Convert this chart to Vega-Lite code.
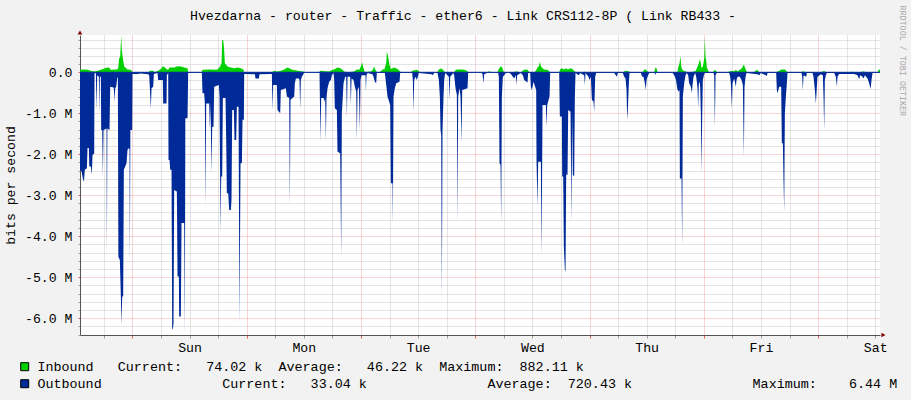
{
"$schema": "https://vega.github.io/schema/vega-lite/v6.json",
"width": 800, "height": 300,
"autosize": "none",
"padding": {"left": 80, "top": 35, "right": 31, "bottom": 65},
"background": "#F2F2F2",
"config": {
  "view": {"fill": "#FFFFFF", "stroke": null},
  "axis": {"labelFont": "Liberation Mono", "titleFont": "Liberation Mono", "labelFontSize": 13.2, "titleFontSize": 13.2, "titleFontWeight": "normal", "labelColor": "#000000", "titleColor": "#000000"}
},
"datasets": {
"inb": [
{"h":1.0,"v":0.06},{"h":1.88,"v":0.07},{"h":2.58,"v":0.06},{"h":3.28,"v":0.04},{"h":3.98,"v":0.02},{"h":4.68,"v":0.04},{"h":5.38,"v":0.06},{"h":6.08,"v":0.09},{"h":6.78,"v":0.12},{"h":7.13,"v":0.11},{"h":7.48,"v":0.06},{"h":8.74,"v":0.07},{"h":9.02,"v":0.10},{"h":9.23,"v":0.34},{"h":9.44,"v":0.38},{"h":9.65,"v":0.89},{"h":9.79,"v":0.54},{"h":10.0,"v":0.34},{"h":10.28,"v":0.14},{"h":10.98,"v":0.07},{"h":11.68,"v":0.06},{"h":11.96,"v":0.02},{"h":12.1,"v":0},
{"h":15.46,"v":0},{"h":15.6,"v":0.04},{"h":16.44,"v":0.04},{"h":16.58,"v":0},{"h":17.28,"v":0.03},{"h":17.84,"v":0.07},{"h":18.12,"v":0.10},{"h":18.4,"v":0.15},{"h":18.82,"v":0.12},{"h":19.24,"v":0.07},{"h":19.52,"v":0.06},{"h":19.8,"v":0.12},{"h":20.78,"v":0.12},{"h":21.48,"v":0.15},{"h":22.18,"v":0.14},{"h":22.88,"v":0.12},{"h":23.58,"v":0.10},{"h":23.72,"v":0},
{"h":26.52,"v":0},{"h":26.73,"v":0.06},{"h":28.48,"v":0.07},{"h":29.18,"v":0.06},{"h":29.88,"v":0.07},{"h":30.44,"v":0.15},{"h":30.72,"v":0.22},{"h":30.86,"v":0.79},{"h":31.07,"v":0.79},{"h":31.28,"v":0.54},{"h":31.42,"v":0.22},{"h":31.98,"v":0.14},{"h":32.68,"v":0.12},{"h":33.38,"v":0.10},{"h":34.08,"v":0.12},{"h":34.78,"v":0.10},{"h":35.34,"v":0.06},{"h":35.48,"v":0},
{"h":41.43,"v":0},{"h":41.64,"v":0.04},{"h":42.48,"v":0.02},{"h":43.18,"v":0.04},{"h":43.88,"v":0.07},{"h":44.58,"v":0.12},{"h":44.93,"v":0.10},{"h":45.63,"v":0.06},{"h":47.03,"v":0.03},{"h":47.94,"v":0.02},{"h":48.08,"v":0},
{"h":51.23,"v":0},{"h":51.44,"v":0.04},{"h":53.33,"v":0.02},{"h":54.03,"v":0.06},{"h":54.38,"v":0.07},{"h":55.08,"v":0.12},{"h":55.64,"v":0.10},{"h":56.13,"v":0.06},{"h":56.48,"v":0.02},{"h":57.18,"v":0},{"h":58.58,"v":0.02},{"h":59.14,"v":0.07},{"h":59.63,"v":0.06},{"h":59.98,"v":0.14},{"h":60.26,"v":0.24},{"h":60.54,"v":0.10},{"h":60.82,"v":0.01},{"h":62.08,"v":0.02},{"h":62.5,"v":0.06},{"h":62.78,"v":0.14},{"h":62.99,"v":0.07},{"h":63.34,"v":0.01},{"h":63.83,"v":0},{"h":64.32,"v":0.04},{"h":64.6,"v":0.08},{"h":64.88,"v":0.06},{"h":65.3,"v":0.22},{"h":65.44,"v":0.50},{"h":65.72,"v":0.38},{"h":66.0,"v":0.18},{"h":66.28,"v":0.08},{"h":66.98,"v":0.12},{"h":67.68,"v":0.08},{"h":68.24,"v":0.02},{"h":68.38,"v":0},
{"h":70.48,"v":0},{"h":70.83,"v":0.04},{"h":71.74,"v":0.06},{"h":72.23,"v":0.02},{"h":72.44,"v":0},{"h":76.08,"v":0},{"h":76.29,"v":0.06},{"h":76.78,"v":0.09},{"h":77.2,"v":0.07},{"h":77.48,"v":0.02},{"h":77.83,"v":0},{"h":79.58,"v":0},{"h":79.93,"v":0.06},{"h":80.28,"v":0.07},{"h":80.98,"v":0.07},{"h":81.68,"v":0.06},{"h":82.24,"v":0.04},{"h":82.52,"v":0},
{"h":86.58,"v":0},{"h":86.79,"v":0.02},{"h":87.14,"v":0.02},{"h":87.28,"v":0},{"h":88.68,"v":0},{"h":88.89,"v":0.07},{"h":89.17,"v":0.12},{"h":89.38,"v":0.15},{"h":89.66,"v":0.12},{"h":89.87,"v":0.04},{"h":90.08,"v":0},{"h":92.18,"v":0},{"h":92.39,"v":0.02},{"h":92.88,"v":0.02},{"h":93.09,"v":0},{"h":93.79,"v":0},{"h":93.93,"v":0.04},{"h":94.28,"v":0.06},{"h":94.63,"v":0.07},{"h":94.98,"v":0.06},{"h":95.33,"v":0},{"h":96.38,"v":0},{"h":96.73,"v":0.04},{"h":97.08,"v":0.12},{"h":97.36,"v":0.15},{"h":97.57,"v":0.26},{"h":97.78,"v":0.15},{"h":98.13,"v":0.10},{"h":98.48,"v":0.07},{"h":99.18,"v":0.06},{"h":99.53,"v":0.02},{"h":99.88,"v":0},
{"h":101.63,"v":0},{"h":101.84,"v":0.07},{"h":102.12,"v":0.10},{"h":102.68,"v":0.07},{"h":103.1,"v":0.10},{"h":103.38,"v":0.07},{"h":104.08,"v":0.10},{"h":104.5,"v":0.07},{"h":104.92,"v":0.02},{"h":105.2,"v":0},{"h":106.74,"v":0},{"h":106.88,"v":0.02},{"h":107.23,"v":0},
{"h":115.08,"v":0},{"h":115.28,"v":0.02},{"h":115.63,"v":0.04},{"h":116.33,"v":0.02},{"h":116.68,"v":0},{"h":119.13,"v":0},{"h":119.48,"v":0.06},{"h":119.83,"v":0.07},{"h":120.18,"v":0.02},{"h":120.53,"v":0},{"h":121.58,"v":0},{"h":121.86,"v":0.12},{"h":122.07,"v":0.10},{"h":122.28,"v":0},
{"h":126.27,"v":0},{"h":126.48,"v":0.02},{"h":126.69,"v":0.14},{"h":126.9,"v":0.22},{"h":127.11,"v":0.40},{"h":127.25,"v":0.14},{"h":127.46,"v":0.07},{"h":127.74,"v":0.04},{"h":128.23,"v":0.02},{"h":128.58,"v":0},{"h":129.28,"v":0.01},{"h":129.98,"v":0.02},{"h":130.33,"v":0.04},{"h":130.68,"v":0.14},{"h":130.96,"v":0.22},{"h":131.17,"v":0.32},{"h":131.38,"v":0.22},{"h":131.52,"v":0.10},{"h":131.8,"v":0.14},{"h":132.08,"v":0.32},{"h":132.22,"v":0.85},{"h":132.36,"v":0.38},{"h":132.5,"v":0.30},{"h":132.64,"v":0.12},{"h":132.92,"v":0.04},{"h":133.2,"v":0},
{"h":133.83,"v":0},{"h":134.18,"v":0.04},{"h":134.39,"v":0.06},{"h":134.6,"v":0.02},{"h":134.88,"v":0},{"h":136.98,"v":0},{"h":137.33,"v":0.02},{"h":138.03,"v":0.04},{"h":138.38,"v":0.02},{"h":138.73,"v":0.06},{"h":139.08,"v":0.02},{"h":139.5,"v":0.06},{"h":139.78,"v":0.07},{"h":140.2,"v":0.14},{"h":140.41,"v":0.19},{"h":140.69,"v":0.10},{"h":140.97,"v":0.02},{"h":141.32,"v":0},{"h":142.23,"v":0},{"h":142.72,"v":0.02},{"h":143.14,"v":0.06},{"h":143.42,"v":0.03},{"h":143.7,"v":0},
{"h":147.13,"v":0},{"h":147.83,"v":0.04},{"h":148.32,"v":0.07},{"h":149.02,"v":0.07},{"h":149.3,"v":0.04},{"h":149.58,"v":0},{"h":152.38,"v":0},{"h":152.73,"v":0.02},{"h":153.08,"v":0.02},{"h":153.43,"v":0},{"h":156.58,"v":0},{"h":156.93,"v":0.02},{"h":157.28,"v":0.03},{"h":157.63,"v":0.01},{"h":157.98,"v":0},{"h":162.88,"v":0},{"h":163.02,"v":0.02},{"h":163.3,"v":0},{"h":164.98,"v":0},{"h":165.33,"v":0.02},{"h":165.68,"v":0.02},{"h":166.03,"v":0},{"h":168.48,"v":0},{"h":168.76,"v":0.07},{"h":169.0,"v":0.06}
],
"outb": [
{"h":1.0,"v":-2.38},{"h":1.32,"v":-2.42},{"h":1.6,"v":-2.59},{"h":1.81,"v":-2.67},{"h":2.02,"v":-2.38},{"h":2.44,"v":-2.34},{"h":2.58,"v":-1.85},{"h":2.86,"v":-1.85},{"h":2.95,"v":-2.30},{"h":3.28,"v":-2.30},{"h":3.49,"v":-2.50},{"h":3.63,"v":-2.02},{"h":3.98,"v":-1.98},{"h":4.05,"v":-0.03},{"h":4.33,"v":-0.02},{"h":4.47,"v":-0.92},{"h":4.61,"v":-0.07},{"h":4.96,"v":-0.11},{"h":5.07,"v":-1.00},{"h":5.17,"v":-0.11},{"h":5.38,"v":-0.11},{"h":5.45,"v":-1.41},{"h":5.66,"v":-1.41},{"h":5.8,"v":-2.54},{"h":5.94,"v":-1.41},{"h":6.57,"v":-1.37},{"h":6.64,"v":-4.46},{"h":6.75,"v":-1.37},{"h":7.2,"v":-1.41},{"h":7.34,"v":-0.35},{"h":8.04,"v":-0.37},{"h":8.11,"v":-0.39},{"h":8.25,"v":-0.72},{"h":8.39,"v":-0.39},{"h":8.6,"v":-0.35},{"h":8.81,"v":-0.15},{"h":8.95,"v":-0.11},
{"h":9.06,"v":-4.50},{"h":9.37,"v":-4.58},{"h":9.58,"v":-5.47},{"h":9.72,"v":-6.16},{"h":9.86,"v":-5.47},{"h":10.07,"v":-5.47},{"h":10.21,"v":-2.38},{"h":10.49,"v":-2.30},{"h":10.77,"v":-2.22},{"h":10.98,"v":-1.89},{"h":11.26,"v":-1.85},{"h":11.4,"v":-1.89},{"h":11.47,"v":-4.66},{"h":11.58,"v":-1.41},{"h":11.96,"v":-1.41},{"h":12.03,"v":-0.04},{"h":13.08,"v":-0.04},{"h":13.78,"v":-0.03},{"h":15.32,"v":-0.05},{"h":15.53,"v":-0.07},{"h":15.67,"v":-0.39},{"h":15.88,"v":-0.89},{"h":16.02,"v":-0.39},{"h":16.37,"v":-0.35},{"h":16.51,"v":-0.04},{"h":17.28,"v":-0.02},{"h":17.42,"v":-0.19},{"h":18.4,"v":-0.19},{"h":18.47,"v":-0.76},{"h":19.17,"v":-0.76},{"h":19.24,"v":-0.07},{"h":19.52,"v":-0.02},
{"h":19.59,"v":-2.14},{"h":19.8,"v":-2.14},{"h":19.94,"v":-2.38},{"h":20.22,"v":-2.38},{"h":20.36,"v":-6.24},{"h":20.5,"v":-6.28},{"h":20.64,"v":-6.12},{"h":20.78,"v":-2.87},{"h":21.34,"v":-2.91},{"h":21.48,"v":-4.98},{"h":21.76,"v":-4.98},{"h":21.83,"v":-5.96},{"h":22.18,"v":-5.96},{"h":22.32,"v":-3.68},{"h":22.88,"v":-3.68},{"h":23.02,"v":-6.41},{"h":23.12,"v":-1.12},{"h":23.58,"v":-1.12},{"h":23.72,"v":-0.02},{"h":26.52,"v":-0.01},
{"h":26.59,"v":-0.02},{"h":26.73,"v":-0.51},{"h":27.08,"v":-0.51},{"h":27.22,"v":-0.76},{"h":27.36,"v":-3.24},{"h":27.5,"v":-0.76},{"h":28.13,"v":-0.76},{"h":28.27,"v":-1.41},{"h":28.41,"v":-0.76},{"h":28.62,"v":-2.46},{"h":28.76,"v":-1.33},{"h":29.04,"v":-1.33},{"h":29.18,"v":-0.35},{"h":30.16,"v":-0.31},{"h":30.3,"v":-0.59},{"h":30.51,"v":-3.93},{"h":30.65,"v":-2.54},{"h":30.86,"v":-2.54},{"h":31.0,"v":-0.63},{"h":31.56,"v":-0.63},{"h":31.7,"v":-1.65},{"h":31.84,"v":-2.95},{"h":32.12,"v":-2.95},{"h":32.33,"v":-3.36},{"h":32.68,"v":-3.36},{"h":32.82,"v":-3.11},{"h":32.96,"v":-0.92},{"h":33.31,"v":-0.92},{"h":33.45,"v":-1.65},{"h":33.8,"v":-1.65},{"h":33.94,"v":-0.84},{"h":34.29,"v":-0.84},{"h":34.5,"v":-6.12},{"h":34.71,"v":-2.22},{"h":34.99,"v":-2.22},{"h":35.13,"v":-1.16},{"h":35.41,"v":-1.16},{"h":35.48,"v":-0.04},
{"h":37.72,"v":-0.05},{"h":37.86,"v":-0.15},{"h":38.56,"v":-0.15},{"h":38.7,"v":-0.05},{"h":41.29,"v":-0.04},{"h":41.43,"v":-0.92},{"h":41.57,"v":-0.31},{"h":42.34,"v":-0.31},{"h":42.48,"v":-0.92},{"h":43.04,"v":-1.00},{"h":43.18,"v":-0.43},{"h":44.23,"v":-0.39},{"h":44.44,"v":-0.59},{"h":44.93,"v":-0.63},{"h":45.07,"v":-3.24},{"h":45.21,"v":-0.67},{"h":45.98,"v":-0.59},{"h":46.12,"v":-0.27},{"h":46.33,"v":-0.15},{"h":46.96,"v":-0.15},{"h":47.1,"v":-0.19},{"h":47.24,"v":-0.89},{"h":47.38,"v":-0.19},{"h":47.59,"v":-0.11},{"h":47.94,"v":-0.04},{"h":48.08,"v":-0.01},{"h":51.23,"v":-0.01},
{"h":51.3,"v":-0.02},{"h":51.37,"v":-0.59},{"h":51.51,"v":-1.69},{"h":51.65,"v":-0.63},{"h":52.14,"v":-0.63},{"h":52.35,"v":-0.72},{"h":52.49,"v":-0.63},{"h":52.63,"v":-1.65},{"h":52.77,"v":-0.63},{"h":52.98,"v":-0.39},{"h":53.33,"v":-0.23},{"h":53.68,"v":-0.19},{"h":53.89,"v":-0.07},{"h":54.24,"v":-0.02},{"h":54.38,"v":-0.19},{"h":54.52,"v":-0.88},{"h":54.94,"v":-0.92},{"h":55.08,"v":-1.93},{"h":55.64,"v":-1.98},{"h":55.85,"v":-4.50},{"h":55.99,"v":-1.00},{"h":56.34,"v":-0.27},{"h":56.69,"v":-0.11},{"h":56.9,"v":-0.11},{"h":57.04,"v":-1.08},{"h":57.18,"v":-0.11},{"h":57.74,"v":-0.11},{"h":57.88,"v":-0.80},{"h":58.02,"v":-0.15},{"h":58.44,"v":-0.19},{"h":58.72,"v":-0.35},{"h":59.0,"v":-0.47},{"h":59.14,"v":-1.65},{"h":59.28,"v":-0.43},{"h":59.56,"v":-0.35},{"h":59.77,"v":-1.41},{"h":59.91,"v":-0.19},{"h":60.12,"v":-0.07},{"h":60.96,"v":-0.07},{"h":61.03,"v":-0.47},{"h":61.17,"v":-0.07},{"h":61.38,"v":-0.02},{"h":62.43,"v":-0.05},{"h":62.64,"v":-0.11},{"h":62.92,"v":-0.23},{"h":63.2,"v":-0.27},{"h":63.34,"v":-0.02},{"h":65.02,"v":-0.02},
{"h":65.23,"v":-0.23},{"h":65.58,"v":-0.59},{"h":66.14,"v":-0.80},{"h":66.28,"v":-2.71},{"h":66.63,"v":-2.71},{"h":66.7,"v":-3.72},{"h":66.84,"v":-0.59},{"h":67.12,"v":-0.39},{"h":67.4,"v":-0.27},{"h":68.1,"v":-0.23},{"h":68.24,"v":-0.02},{"h":70.76,"v":-0.02},{"h":70.9,"v":-0.19},{"h":71.04,"v":-0.96},{"h":71.18,"v":-0.19},{"h":71.46,"v":-0.11},{"h":71.74,"v":-0.19},{"h":71.95,"v":-0.11},{"h":72.16,"v":-0.02},{"h":74.82,"v":-0.05},{"h":75.1,"v":-0.07},{"h":75.38,"v":-0.01},{"h":76.08,"v":-0.02},{"h":76.36,"v":-0.19},{"h":76.57,"v":-0.59},{"h":76.71,"v":-1.41},{"h":76.85,"v":-1.53},{"h":76.99,"v":-5.55},{"h":77.13,"v":-1.41},{"h":77.34,"v":-0.59},{"h":77.48,"v":-0.19},{"h":77.69,"v":-0.02},{"h":78.18,"v":-0.07},{"h":78.46,"v":-0.11},{"h":78.6,"v":-0.67},{"h":78.74,"v":-0.11},{"h":79.02,"v":-0.07},{"h":79.37,"v":-0.02},{"h":79.58,"v":-0.07},{"h":79.86,"v":-0.39},{"h":80.14,"v":-0.55},{"h":80.28,"v":-3.68},{"h":80.42,"v":-0.59},{"h":80.7,"v":-0.39},{"h":80.91,"v":-0.59},{"h":81.12,"v":-1.73},{"h":81.26,"v":-0.43},{"h":82.38,"v":-0.39},{"h":82.52,"v":-0.02},
{"h":85.32,"v":-0.01},{"h":85.53,"v":-0.05},{"h":85.74,"v":-0.27},{"h":85.88,"v":-0.05},{"h":86.58,"v":-0.01},{"h":88.82,"v":-0.02},{"h":88.96,"v":-0.11},{"h":89.1,"v":-2.22},{"h":89.31,"v":-2.26},{"h":89.45,"v":-3.68},{"h":89.59,"v":-0.59},{"h":89.8,"v":-0.11},{"h":90.08,"v":-0.07},{"h":90.43,"v":-0.02},{"h":91.13,"v":-0.01},{"h":91.48,"v":-0.04},{"h":92.18,"v":-0.15},{"h":92.53,"v":-0.07},{"h":92.67,"v":-0.31},{"h":92.81,"v":-0.07},{"h":93.58,"v":-0.02},{"h":94.0,"v":-0.07},{"h":94.28,"v":-0.19},{"h":94.98,"v":-0.25},{"h":95.12,"v":-0.02},{"h":95.54,"v":-0.02},{"h":95.68,"v":-0.35},{"h":95.89,"v":-0.43},{"h":96.24,"v":-0.23},{"h":96.8,"v":-0.43},{"h":96.87,"v":-2.18},{"h":97.08,"v":-3.28},{"h":97.22,"v":-2.18},{"h":97.78,"v":-2.18},{"h":97.92,"v":-4.46},{"h":98.06,"v":-2.22},{"h":98.13,"v":-0.80},{"h":98.83,"v":-0.80},{"h":98.97,"v":-1.33},{"h":99.11,"v":-0.80},{"h":99.6,"v":-0.59},{"h":99.74,"v":-0.02},
{"h":101.63,"v":-0.01},{"h":101.77,"v":-1.08},{"h":102.19,"v":-1.08},{"h":102.26,"v":-2.54},{"h":102.47,"v":-2.54},{"h":102.61,"v":-4.25},{"h":102.82,"v":-4.82},{"h":102.96,"v":-4.86},{"h":103.1,"v":-2.50},{"h":103.38,"v":-2.50},{"h":103.52,"v":-0.92},{"h":104.01,"v":-0.96},{"h":104.22,"v":-3.68},{"h":104.36,"v":-1.00},{"h":104.5,"v":-2.50},{"h":104.78,"v":-2.54},{"h":104.92,"v":-0.59},{"h":105.06,"v":-0.02},{"h":105.76,"v":-0.07},{"h":106.04,"v":-0.02},{"h":106.88,"v":-0.07},{"h":107.02,"v":-0.31},{"h":107.16,"v":-0.02},{"h":107.79,"v":-0.11},{"h":108.0,"v":-0.19},{"h":108.28,"v":-0.11},{"h":108.49,"v":-0.67},{"h":108.84,"v":-0.72},{"h":108.98,"v":-0.96},{"h":109.19,"v":-0.11},{"h":109.4,"v":-0.02},
{"h":113.18,"v":-0.02},{"h":113.53,"v":-0.07},{"h":113.74,"v":-0.11},{"h":113.95,"v":-0.02},{"h":115.0,"v":-0.02},{"h":115.28,"v":-0.11},{"h":115.56,"v":-0.15},{"h":115.77,"v":-0.43},{"h":115.91,"v":-1.16},{"h":116.05,"v":-0.92},{"h":116.26,"v":-0.27},{"h":116.4,"v":-0.02},{"h":118.78,"v":-0.02},{"h":119.06,"v":-0.11},{"h":119.34,"v":-0.11},{"h":119.62,"v":-0.27},{"h":119.83,"v":-0.43},{"h":119.97,"v":-0.19},{"h":120.18,"v":-0.11},{"h":120.53,"v":-0.02},{"h":121.65,"v":-0.01},{"h":121.79,"v":-0.07},{"h":121.93,"v":-0.02},{"h":125.43,"v":-0.01},{"h":125.78,"v":-0.07},{"h":126.13,"v":-0.17},
{"h":126.48,"v":-0.43},{"h":126.76,"v":-0.47},{"h":126.9,"v":-0.43},{"h":126.97,"v":-2.59},{"h":127.32,"v":-2.59},{"h":127.46,"v":-4.25},{"h":127.6,"v":-0.59},{"h":127.88,"v":-0.27},{"h":128.16,"v":-0.07},{"h":128.44,"v":-0.02},{"h":128.72,"v":-0.07},{"h":128.93,"v":-0.27},{"h":129.14,"v":-0.31},{"h":129.35,"v":-0.39},{"h":129.49,"v":-0.51},{"h":129.63,"v":-0.31},{"h":129.84,"v":-0.11},{"h":130.19,"v":-0.02},{"h":130.4,"v":-0.11},{"h":130.54,"v":-0.23},{"h":130.68,"v":-0.39},{"h":130.82,"v":-0.88},{"h":130.96,"v":-0.27},{"h":131.1,"v":-0.23},{"h":131.24,"v":-0.35},{"h":131.38,"v":-1.00},{"h":131.52,"v":-2.46},{"h":131.66,"v":-1.08},{"h":131.8,"v":-0.19},{"h":132.01,"v":-0.07},{"h":132.22,"v":-0.02},
{"h":134.04,"v":-0.02},{"h":134.18,"v":-0.07},{"h":134.32,"v":-1.33},{"h":134.46,"v":-0.07},{"h":134.74,"v":-0.01},{"h":137.33,"v":-0.02},{"h":137.54,"v":-0.11},{"h":137.68,"v":-0.27},{"h":137.89,"v":-0.88},{"h":138.03,"v":-0.27},{"h":138.38,"v":-0.15},{"h":138.73,"v":-0.35},{"h":138.87,"v":-0.19},{"h":139.08,"v":-0.11},{"h":139.57,"v":-0.11},{"h":139.92,"v":-0.19},{"h":140.2,"v":-0.31},{"h":140.41,"v":-2.06},{"h":140.55,"v":-0.35},{"h":140.76,"v":-0.11},{"h":140.97,"v":-0.02},{"h":143.28,"v":-0.05},{"h":143.63,"v":-0.07},{"h":143.98,"v":-0.02},{"h":145.03,"v":-0.07},{"h":145.24,"v":-0.09},{"h":145.38,"v":-0.02},
{"h":147.2,"v":-0.02},{"h":147.34,"v":-0.43},{"h":147.48,"v":-0.51},{"h":147.83,"v":-0.35},{"h":148.25,"v":-0.35},{"h":148.39,"v":-1.73},{"h":148.6,"v":-1.73},{"h":148.74,"v":-2.63},{"h":148.88,"v":-3.40},{"h":149.02,"v":-1.00},{"h":149.23,"v":-0.59},{"h":149.44,"v":-0.27},{"h":149.58,"v":-0.02},{"h":152.52,"v":-0.02},{"h":152.66,"v":-0.11},{"h":152.8,"v":-0.43},{"h":152.94,"v":-0.07},{"h":153.5,"v":-0.11},{"h":153.64,"v":-0.02},{"h":154.83,"v":-0.02},{"h":155.04,"v":-0.11},{"h":155.32,"v":-0.43},{"h":155.53,"v":-0.76},{"h":155.74,"v":-0.35},{"h":155.88,"v":-0.11},{"h":156.58,"v":-0.05},{"h":157.0,"v":-0.07},{"h":157.14,"v":-0.59},{"h":157.28,"v":-1.41},{"h":157.42,"v":-0.19},{"h":157.63,"v":-0.07},{"h":157.84,"v":-0.02},
{"h":159.38,"v":-0.02},{"h":159.73,"v":-0.11},{"h":159.94,"v":-0.35},{"h":160.08,"v":-0.11},{"h":160.43,"v":-0.04},{"h":163.58,"v":-0.04},{"h":164.28,"v":-0.07},{"h":164.63,"v":-0.17},{"h":164.84,"v":-0.07},{"h":165.33,"v":-0.11},{"h":165.54,"v":-0.15},{"h":165.82,"v":-0.07},{"h":166.38,"v":-0.15},{"h":166.73,"v":-0.27},{"h":167.01,"v":-0.41},{"h":167.22,"v":-0.19},{"h":167.43,"v":-0.02},{"h":169.0,"v":-0.01}
]
},
"layer": [
{
  "data": {"name": "inb"},
  "mark": {"type": "area", "orient": "vertical", "interpolate": "linear", "opacity": 1},
  "encoding": {
    "x": {"field": "h", "type": "quantitative",
      "scale": {"domain": [1, 169], "nice": false, "zero": false},
      "axis": {"orient": "bottom", "title": null,
        "values": [6,12,18,24,30,36,42,48,54,60,66,72,78,84,90,96,102,108,114,120,126,132,138,144,150,156,162,168],
        "labelExpr": "datum.value % 24 === 0 ? ['Sat','Sun','Mon','Tue','Wed','Thu','Fri','Sat'][datum.value / 24] : ''",
        "labelOverlap": false, "labelPadding": 3, "labelFlush": false,
        "grid": true, "gridDash": [1, 1],
        "gridColor": {"condition": {"test": "datum.value % 24 === 12", "value": "#F0A8A8"}, "value": "#C8C8C8"},
        "tickSize": 3,
        "tickColor": {"condition": {"test": "datum.value % 24 === 12", "value": "#E06060"}, "value": "#A0A0A0"},
        "domainColor": "#555555"}},
    "y": {"field": "v", "type": "quantitative", "stack": null,
      "scale": {"domain": [-6.41, 0.91], "nice": false, "zero": false},
      "axis": {"orient": "left", "title": "bits per second",
        "titleX": -70, "titleY": 150, "titleAngle": -90, "titleAlign": "center", "titleBaseline": "middle",
        "values": [-6.4,-6.2,-6,-5.8,-5.6,-5.4,-5.2,-5,-4.8,-4.6,-4.4,-4.2,-4,-3.8,-3.6,-3.4,-3.2,-3,-2.8,-2.6,-2.4,-2.2,-2,-1.8,-1.6,-1.4,-1.2,-1,-0.8,-0.6,-0.4,-0.2,0,0.2,0.4,0.6,0.8],
        "labelExpr": "abs(datum.value - round(datum.value)) < 0.01 ? (abs(datum.value) < 0.01 ? '0.0\u00a0\u00a0' : '-' + format(abs(datum.value), '.1f') + ' M') : ''",
        "labelOverlap": false, "labelPadding": 6, "labelFlush": false,
        "grid": true, "gridDash": [1, 1],
        "gridColor": {"condition": {"test": "abs(datum.value - round(datum.value)) < 0.01", "value": "#F0A8A8"}, "value": "#C8C8C8"},
        "tickSize": 2,
        "tickColor": {"condition": {"test": "abs(datum.value - round(datum.value)) < 0.01", "value": "#E06060"}, "value": "#A0A0A0"},
        "domainColor": "#555555"}},
    "y2": {"datum": 0},
    "color": {"datum": "Inbound",
      "scale": {"domain": ["Inbound", "Outbound"], "range": ["#00CF00", "#002A97"]},
      "legend": {"orient": "none", "legendX": -62, "legendY": 325, "direction": "vertical", "title": null,
        "symbolType": "square", "symbolSize": 64, "symbolStrokeColor": "#000000", "symbolStrokeWidth": 1,
        "labelFont": "Liberation Mono", "labelFontSize": 13.4, "labelColor": "#000000", "labelLimit": 2000,
        "labelOffset": 6, "rowPadding": 2, "padding": 0,
        "labelExpr": "datum.label === 'Inbound' ? 'Inbound\u00a0\u00a0\u00a0Current:\u00a0\u00a0\u00a074.02 k\u00a0\u00a0Average:\u00a0\u00a0\u00a046.22 k\u00a0\u00a0Maximum:\u00a0\u00a0882.11 k' : 'Outbound\u00a0\u00a0\u00a0\u00a0\u00a0\u00a0\u00a0\u00a0\u00a0\u00a0\u00a0\u00a0\u00a0\u00a0\u00a0Current:\u00a0\u00a0\u00a033.04 k\u00a0\u00a0\u00a0\u00a0\u00a0\u00a0\u00a0\u00a0\u00a0\u00a0\u00a0\u00a0\u00a0\u00a0\u00a0Average:\u00a0\u00a0720.43 k\u00a0\u00a0\u00a0\u00a0\u00a0\u00a0\u00a0\u00a0\u00a0\u00a0\u00a0\u00a0\u00a0\u00a0\u00a0Maximum:\u00a0\u00a0\u00a0\u00a06.44 M'"}}
  }
},
{
  "data": {"name": "outb"},
  "mark": {"type": "area", "orient": "vertical", "interpolate": "linear", "opacity": 1},
  "encoding": {
    "x": {"field": "h", "type": "quantitative", "axis": null},
    "y": {"field": "v", "type": "quantitative", "stack": null, "axis": null},
    "y2": {"datum": 0},
    "color": {"datum": "Outbound"}
  }
},
{
  "data": {"values": [{}]},
  "mark": {"type": "rule", "color": "#002A97", "strokeWidth": 1},
  "encoding": {
    "y": {"datum": 0, "axis": {"orient": "right", "title": "RRDTOOL / TOBI OETIKER",
      "labels": false, "ticks": false, "domain": false, "grid": false,
      "titleX": 22, "titleY": -30, "titleAngle": 90, "titleAlign": "left", "titleBaseline": "middle",
      "titleFont": "Liberation Mono", "titleFontSize": 8.4, "titleColor": "#A8A8A8"}}
  }
},
{
  "data": {"values": [{}]},
  "mark": {"type": "point", "shape": "triangle-up", "filled": true, "color": "#7F0000", "size": 22, "opacity": 1},
  "encoding": {
    "x": {"datum": 1.0, "axis": {"orient": "top", "title": "Hvezdarna - router - Traffic - ether6 - Link CRS112-8P ( Link RB433 -",
      "labels": false, "ticks": false, "domain": false, "grid": false,
      "titleX": 382.5, "titleY": -16, "titleAlign": "center", "titleBaseline": "alphabetic",
      "titleFont": "Liberation Mono", "titleFontSize": 13.2, "titleColor": "#000000"}},
    "y": {"datum": 0.971, "axis": null}
  }
},
{
  "data": {"values": [{}]},
  "mark": {"type": "point", "shape": "triangle-right", "filled": true, "color": "#7F0000", "size": 22, "opacity": 1},
  "encoding": {
    "x": {"datum": 169.73, "axis": null},
    "y": {"datum": -6.41, "axis": null}
  }
}
],
"resolve": {"axis": {"x": "independent", "y": "independent"}}
}
